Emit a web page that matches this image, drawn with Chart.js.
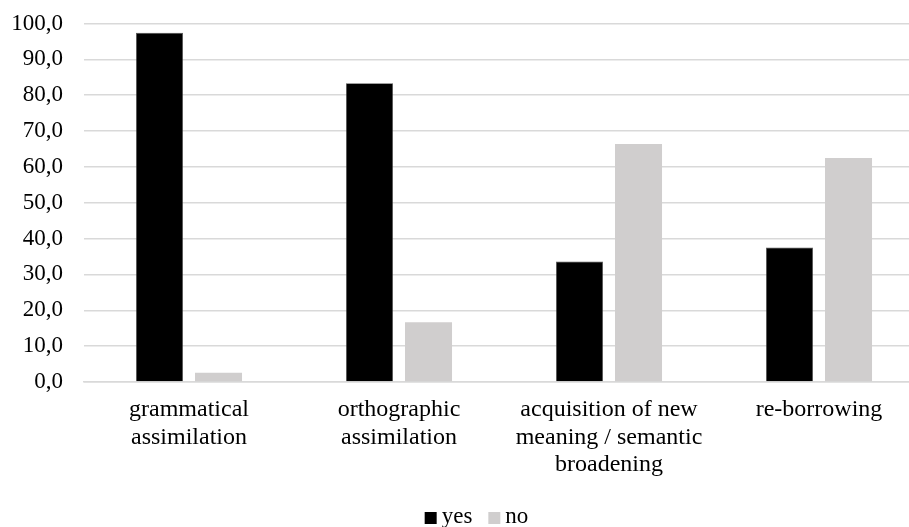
<!DOCTYPE html>
<html>
<head>
<meta charset="utf-8">
<script src="https://cdn.jsdelivr.net/npm/chart.js@4.4.1/dist/chart.umd.min.js"></script>
<style>
  html, body { margin: 0; padding: 0; background: #ffffff; overflow: hidden; }
  /* the plot runs slightly past the right edge of the window */
  #wrap { width: 924px; height: 527px; position: relative; }
</style>
</head>
<body>
<div id="wrap"><canvas id="chart"></canvas></div>
<script>
// Categories (multi-line labels), series values and axis ticks
const categories = [
  ['grammatical', 'assimilation'],
  ['orthographic', 'assimilation'],
  ['acquisition of new', 'meaning / semantic', 'broadening'],
  ['re-borrowing']
];
const yesValues = [97.4, 83.3, 33.6, 37.5];
const noValues = [2.6, 16.7, 66.4, 62.5];
const yTicks = { min: 0, max: 100, step: 10 };

const fontFamily = '"Liberation Serif", "Times New Roman", serif';

// Compact legend: small square swatch, tight gap before the text
const compactLegend = {
  id: 'compactLegend',
  afterDraw(chart) {
    const ctx = chart.ctx;
    const box = 12, gapText = 5, gapItem = 16;
    ctx.save();
    ctx.font = '23px ' + fontFamily;
    ctx.textBaseline = 'middle';
    const items = chart.data.datasets.map(ds => ({
      text: ds.label,
      color: ds.backgroundColor,
      w: ctx.measureText(ds.label).width
    }));
    const total = items.reduce((s, it) => s + box + gapText + it.w, 0) + gapItem * (items.length - 1);
    let x = 476.5 - total / 2;
    const cy = 518;
    items.forEach(it => {
      ctx.fillStyle = it.color;
      ctx.fillRect(x, cy - box / 2, box, box);
      x += box + gapText;
      ctx.fillStyle = '#000000';
      ctx.fillText(it.text, x, cy - 1);
      x += it.w + gapItem;
    });
    ctx.restore();
  }
};

new Chart(document.getElementById('chart'), {
  type: 'bar',
  data: {
    labels: categories,
    datasets: [
      {
        label: 'yes',
        data: yesValues,
        backgroundColor: '#000000',
        borderColor: '#555555',
        borderWidth: 0.6
      },
      {
        label: 'no',
        data: noValues,
        backgroundColor: '#d0cece',
        borderWidth: 0
      }
    ]
  },
  plugins: [compactLegend],
  options: {
    responsive: true,
    maintainAspectRatio: false,
    animation: false,
    layout: { padding: { left: 0, right: 0, top: 23.5, bottom: 0 } },
    datasets: {
      bar: { categoryPercentage: 0.562, barPercentage: 0.797 }
    },
    plugins: {
      legend: { display: false },
      tooltip: { enabled: false }
    },
    scales: {
      x: {
        grid: { display: false },
        border: { display: true, color: '#d9d9d9', width: 1.5 },
        ticks: {
          font: { family: fontFamily, size: 24, lineHeight: 1.15 },
          color: '#000000',
          maxRotation: 0,
          autoSkip: false,
          padding: 6
        },
        afterFit: scale => { scale.height = 145; }
      },
      y: {
        min: yTicks.min,
        max: yTicks.max,
        grid: { color: '#d9d9d9', lineWidth: 1.5, drawTicks: false },
        border: { display: false },
        ticks: {
          stepSize: yTicks.step,
          font: { family: fontFamily, size: 23 },
          color: '#000000',
          padding: 21,
          callback: v => v.toFixed(1).replace('.', ',')
        },
        afterFit: scale => {
          scale.width = 84;
          scale.paddingTop = 0;
          scale.paddingBottom = 0;
        }
      }
    }
  }
});
</script>
</body>
</html>
